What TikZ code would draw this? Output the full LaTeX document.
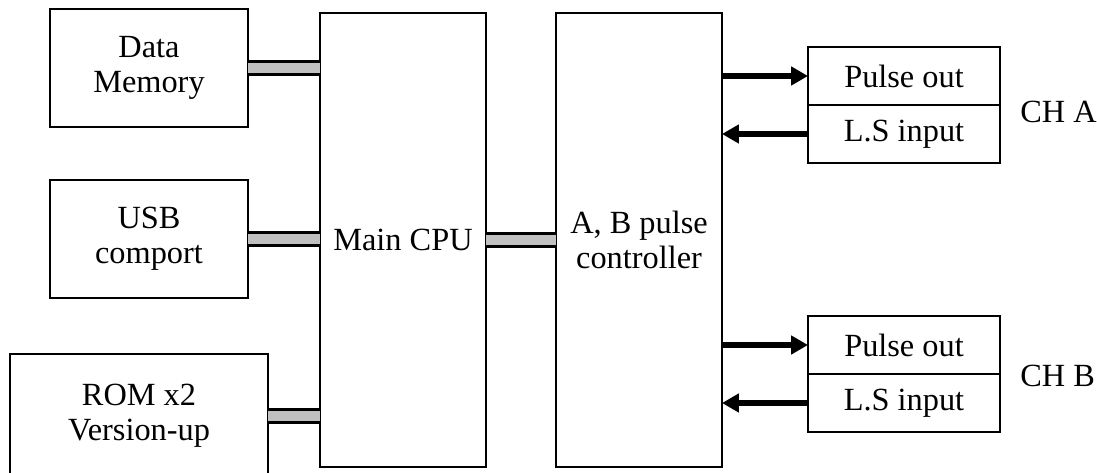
\documentclass[tikz,border=0pt]{standalone}
\usepackage{fontspec}
\setmainfont{Liberation Serif}
\usetikzlibrary{positioning,arrows.meta}
\definecolor{CBUS}{RGB}{192,192,192}
\tikzset{
  blk/.style={draw,line width=1.4pt,align=center,inner sep=0pt,outer sep=0pt},
  chbox/.style={draw,line width=1.1pt,minimum width=4.8cm,minimum height=1.45cm,inner sep=0pt,outer sep=0pt},
  bus/.style={draw=black,line width=2pt,double=CBUS,double distance=0.25cm},
  sig/.style={line width=0.14cm,-{Triangle[length=0.42cm,width=0.45cm]}},
  chlbl/.style={inner sep=0pt,anchor=west},
}

\begin{document}
\begin{tikzpicture}[font=\fontsize{23}{25}\selectfont]
  \useasboundingbox (0,0) rectangle (27.425,11.8);
  % — left blocks
  \node[blk,minimum width=4.95cm,minimum height=2.95cm] (dmem) at (3.725,10.1) {Data\\Memory};
  \node[blk,minimum width=4.95cm,minimum height=2.95cm] (usb) at (3.725,5.825) {USB\\comport};
  \node[blk,minimum width=6.45cm,minimum height=3.1cm] (rom) at (3.475,1.4) {ROM x2\\Version-up};
  % — CPU and controller
  \node[blk,minimum width=4.15cm,minimum height=11.35cm] (cpu) at (10.075,5.8) {Main CPU};
  \node[blk,minimum width=4.15cm,minimum height=11.35cm] (ctrl) at (15.975,5.8) {A, B pulse\\controller};
  % — channels
  \node[chbox] (pa) at (22.6,9.9) {Pulse out};
  \node[chbox,below=0pt of pa] (la) {L.S input};
  \node[chbox] (pb) at (22.6,3.175) {Pulse out};
  \node[chbox,below=0pt of pb] (lb) {L.S input};
  \node[chlbl,right=0.5cm of pa.south east,yshift=-0.18cm] (cha) {CH A};
  \node[chlbl,right=0.5cm of pb.south east,yshift=-0.05cm] (chb) {CH B};
  % — buses
  \draw[bus] (dmem.east) -- (dmem.east -| cpu.west);
  \draw[bus] (usb.east) -- (usb.east -| cpu.west);
  \draw[bus] (rom.east) -- (rom.east -| cpu.west);
  \draw[bus] (cpu.east) -- (ctrl.west);
  % — signals
  \draw[sig] (pa.west -| ctrl.east) -- (pa.west);
  \draw[sig] (la.west) -- (la.west -| ctrl.east);
  \draw[sig] (pb.west -| ctrl.east) -- (pb.west);
  \draw[sig] (lb.west) -- (lb.west -| ctrl.east);
\end{tikzpicture}
\end{document}
